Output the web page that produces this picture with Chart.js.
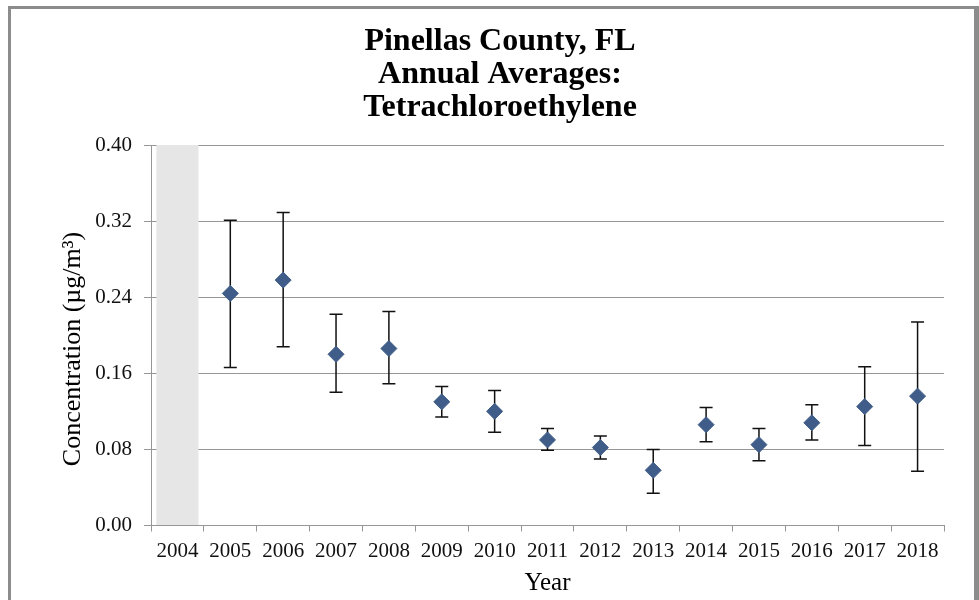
<!DOCTYPE html>
<html>
<head>
<meta charset="utf-8">
<script src="https://cdn.jsdelivr.net/npm/chart.js@4.4.1/dist/chart.umd.min.js"></script>
<style>
  html, body { margin: 0; padding: 0; background: #fff; overflow: hidden; }
  body { width: 979px; height: 600px; position: relative; }
  .frame {
    position: absolute; left: 8px; top: 6px; width: 971px; height: 640px;
    box-sizing: border-box; border: solid #8c8c8c; border-width: 3px 5px 3px 3px;
  }
  #chart { position: absolute; left: 0; top: 0; }
</style>
</head>
<body>
<div class="frame"></div>
<canvas id="chart" width="979" height="600"></canvas>
<script>
// Annual averages with error bar limits (µg/m3)
const years = ['2004', '2005', '2006', '2007', '2008', '2009', '2010', '2011',
               '2012', '2013', '2014', '2015', '2016', '2017', '2018'];
const means = [null, 0.244, 0.258, 0.180, 0.186, 0.130, 0.120, 0.090,
               0.082, 0.058, 0.106, 0.085, 0.108, 0.125, 0.136];
const upper = [null, 0.321, 0.329, 0.222, 0.225, 0.146, 0.142, 0.102,
               0.094, 0.080, 0.124, 0.102, 0.127, 0.167, 0.214];
const lower = [null, 0.166, 0.188, 0.140, 0.149, 0.114, 0.098, 0.079,
               0.070, 0.034, 0.088, 0.068, 0.090, 0.084, 0.057];
// grey band marking the year with no data
const noDataBand = [0.40, null, null, null, null, null, null, null,
                    null, null, null, null, null, null, null];

const serif = "'Liberation Serif', 'Times New Roman', serif";
const gridGrey = '#969696';

// Draw the error bars behind the diamonds
const errorBars = {
    id: 'errorBars',
    beforeDatasetsDraw(chart) {
        const { ctx, scales: { x, y } } = chart;
        ctx.save();
        ctx.strokeStyle = '#111';
        ctx.lineWidth = 1.5;
        years.forEach((yr, i) => {
            if (upper[i] == null) return;
            const px = x.getPixelForValue(i);
            const top = y.getPixelForValue(upper[i]);
            const bot = y.getPixelForValue(lower[i]);
            ctx.beginPath();
            ctx.moveTo(px, top); ctx.lineTo(px, bot);
            ctx.moveTo(px - 6.5, top); ctx.lineTo(px + 6.5, top);
            ctx.moveTo(px - 6.5, bot); ctx.lineTo(px + 6.5, bot);
            ctx.stroke();
        });
        ctx.restore();
    }
};

// Vertical axis title, sits a bit below the plot centre like the original
const yTitle = {
    id: 'yTitle',
    afterDraw(chart) {
        const ctx = chart.ctx;
        ctx.save();
        ctx.translate(73, 349);
        ctx.rotate(-Math.PI / 2);
        ctx.font = '26px ' + serif;
        ctx.fillStyle = '#000';
        ctx.textAlign = 'center';
        ctx.textBaseline = 'middle';
        ctx.fillText('Concentration (\u00b5g/m\u00b3)', 0, 0);
        ctx.restore();
    }
};

new Chart(document.getElementById('chart'), {
    type: 'bar',
    data: {
        labels: years,
        datasets: [
            {
                type: 'bar',
                data: noDataBand,
                backgroundColor: '#e6e6e6',
                categoryPercentage: 1,
                barPercentage: 0.795
            },
            {
                type: 'line',
                data: means,
                showLine: false,
                pointStyle: 'rectRot',
                pointRadius: 8,
                pointBackgroundColor: '#3f5d88',
                pointBorderColor: '#3f5d88',
                pointBorderWidth: 1
            }
        ]
    },
    options: {
        responsive: false,
        animation: false,
        layout: { padding: { left: 56, right: 35, top: 0, bottom: 0 } },
        plugins: {
            legend: { display: false },
            tooltip: { enabled: false },
            title: {
                display: true,
                text: ['Pinellas County, FL', 'Annual Averages:', 'Tetrachloroethylene'],
                color: '#000',
                font: { family: serif, size: 32, weight: 'bold', lineHeight: 1.02 },
                padding: { top: 25.7, bottom: 21.4 }
            }
        },
        scales: {
            x: {
                offset: true,
                grid: {
                    offset: true, drawOnChartArea: false,
                    tickLength: 6, color: gridGrey
                },
                border: { color: gridGrey, width: 1 },
                ticks: {
                    color: '#111', padding: 7, autoSkip: false, maxRotation: 0,
                    font: { family: serif, size: 21 }
                },
                title: {
                    display: true, text: 'Year', color: '#000',
                    font: { family: serif, size: 25 },
                    padding: { top: 0, bottom: 2 }
                },
                afterFit(scale) { scale.height = 74.5; }
            },
            y: {
                min: 0,
                max: 0.4,
                grid: { color: gridGrey, tickLength: 7 },
                border: { color: gridGrey, width: 1 },
                ticks: {
                    stepSize: 0.08, padding: 12, color: '#111',
                    font: { family: serif, size: 21 },
                    callback: v => v.toFixed(2)
                },
                afterFit(scale) { scale.width = 95; }
            }
        }
    },
    plugins: [errorBars, yTitle]
});
</script>
</body>
</html>
